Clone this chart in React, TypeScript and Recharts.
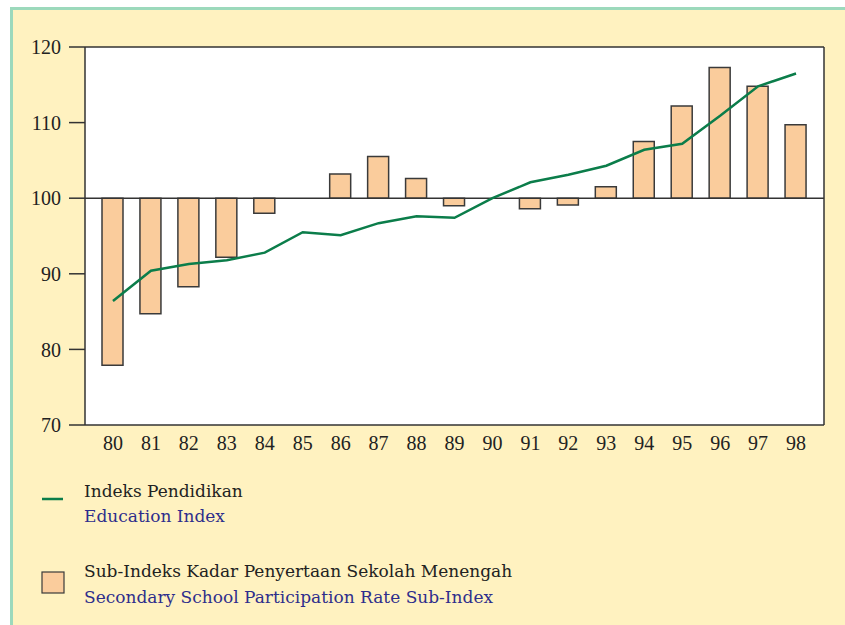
import { ComposedChart, Bar, Line, XAxis, YAxis, CartesianGrid, ReferenceLine } from "recharts";

const years = ["80", "81", "82", "83", "84", "85", "86", "87", "88", "89", "90", "91", "92", "93", "94", "95", "96", "97", "98"];
const educationIndex = [86.4, 90.4, 91.3, 91.8, 92.8, 95.5, 95.1, 96.7, 97.6, 97.4, 100.0, 102.1, 103.1, 104.3, 106.4, 107.2, 110.9, 114.8, 116.5];
const secondarySubIndex = [77.9, 84.7, 88.3, 92.2, 98.0, null, 103.2, 105.5, 102.6, 99.0, null, 98.6, 99.1, 101.5, 107.5, 112.2, 117.3, 114.8, 109.7];
const yTicks = [70, 80, 90, 100, 110, 120];

const data = years.map((y, i) => ({
  year: y,
  edu: educationIndex[i],
  sub: secondarySubIndex[i] == null ? null : [100, secondarySubIndex[i]]
}));

const GREEN = "#0b7d4a";
const PEACH = "#facc9c";
const BLUE = "#2e2e8c";
const tickFont = { fontFamily: "Liberation Serif", fontSize: 20, fill: "#222" };
const legendFont = { fontFamily: "DejaVu Serif", fontSize: 17 };

export default function App() {
  return (
    <div
      style={{
        position: "fixed",
        left: 10,
        top: 7,
        width: 835,
        height: 618,
        overflow: "hidden",
        borderTop: "3px solid #9cd9bc",
        borderLeft: "3px solid #9cd9bc",
        background: "#fff2c0"
      }}
    >
      <ComposedChart
        width={832}
        height={460}
        data={data}
        margin={{ top: 37, right: 21, bottom: 0, left: 0 }}
      >
        {/* white plot area; grid lines used only as the frame on top and right */}
        <CartesianGrid
          fill="#fff"
          stroke="#333"
          strokeWidth={1.5}
          horizontalCoordinatesGenerator={({ offset }: any) => [offset.top]}
          verticalCoordinatesGenerator={({ offset }: any) => [offset.left + offset.width]}
        />
        <XAxis
          dataKey="year"
          padding={{ left: 9, right: 9 }}
          height={45}
          tickLine={false}
          tickSize={0}
          tickMargin={11}
          axisLine={{ stroke: "#333", strokeWidth: 1.5 }}
          tick={tickFont}
          interval={0}
        />
        <YAxis
          domain={[70, 120]}
          ticks={yTicks}
          width={72}
          tickSize={16}
          tickMargin={8}
          tickLine={{ stroke: "#333", strokeWidth: 1.5 }}
          axisLine={{ stroke: "#333", strokeWidth: 1.5 }}
          tick={tickFont}
          allowDataOverflow
        />
        <ReferenceLine y={100} stroke="#333" strokeWidth={1.5} />
        <Bar
          dataKey="sub"
          barSize={21}
          fill={PEACH}
          stroke="#3a3a3a"
          strokeWidth={1.5}
          isAnimationActive={false}
        />
        <Line
          dataKey="edu"
          type="linear"
          stroke={GREEN}
          strokeWidth={2.5}
          dot={false}
          activeDot={false}
          isAnimationActive={false}
        />
      </ComposedChart>
      <svg
        width={832}
        height={615}
        style={{ position: "absolute", left: 0, top: 0, pointerEvents: "none" }}
      >
        <line x1={29} y1={489} x2={50} y2={489} stroke={GREEN} strokeWidth={2.5} />
        <text x={71} y={487} {...legendFont} fill="#222">Indeks Pendidikan</text>
        <text x={71} y={512} {...legendFont} fill={BLUE}>Education Index</text>
        <rect x={29} y={562} width={22} height={21} fill={PEACH} stroke="#3a3a3a" strokeWidth={1.2} />
        <text x={71} y={567} {...legendFont} fill="#222">Sub-Indeks Kadar Penyertaan Sekolah Menengah</text>
        <text x={71} y={593} {...legendFont} fill={BLUE}>Secondary School Participation Rate Sub-Index</text>
      </svg>
    </div>
  );
}
